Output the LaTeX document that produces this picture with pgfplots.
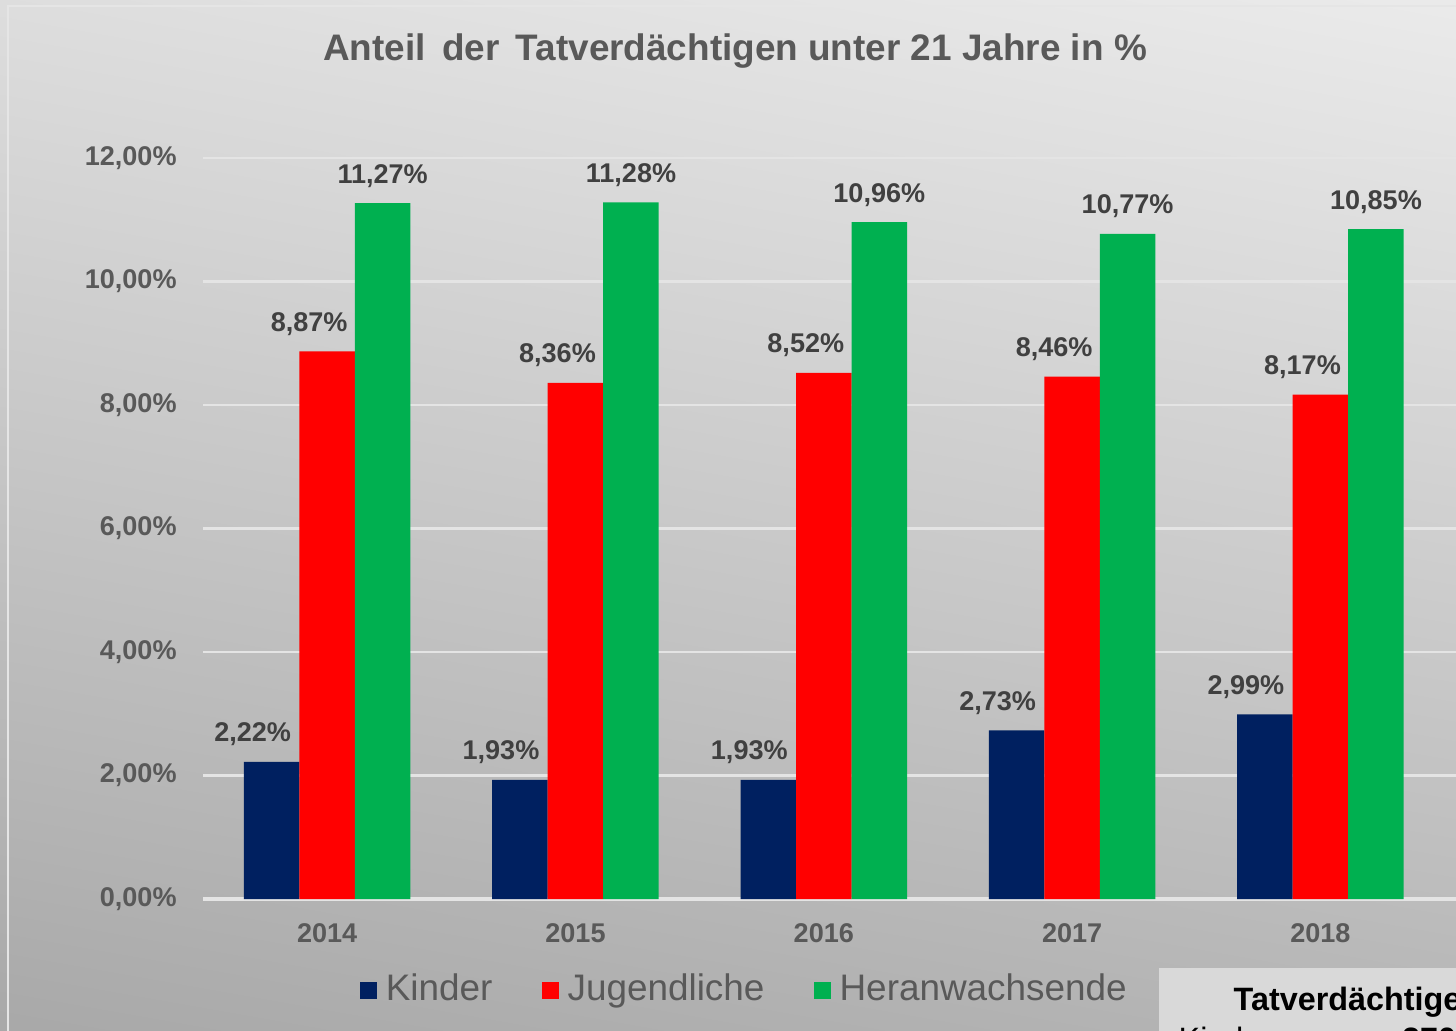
\documentclass[border=0pt]{standalone}
\usepackage{pgfplots}
\pgfplotsset{compat=1.18}
\usepackage{fontspec}
\setmainfont{Liberation Sans}
\definecolor{kinder}{HTML}{002060}
\definecolor{jugend}{HTML}{FF0000}
\definecolor{heran}{HTML}{00B050}
\definecolor{txtgray}{HTML}{595959}
\definecolor{lblgray}{HTML}{404040}
\definecolor{gridc}{HTML}{E4E4E4}
\definecolor{bgtop}{HTML}{EBEBEB}
\definecolor{bgbot}{HTML}{A8A8A8}
\definecolor{boxgray}{HTML}{D9D9D9}
\begin{document}
\begin{tikzpicture}[x=1cm,y=1cm]
\begin{scope}
\clip (0,0) rectangle (14.56,10.30);
\shade[top color=bgtop, bottom color=bgbot, shading angle=-10] (-1,-1) rectangle (15.56,11.30);
\draw[white!80!gray, line width=0.6pt] (0.08,-1) rectangle (15,10.24);
\node[font=\bfseries\fontsize{10.5}{12}\selectfont, text=txtgray] at (7.35,9.79)
  {Anteil\, der\, Tatverdächtigen unter 21 Jahre in \%};
\begin{axis}[
  at={(2.03cm,1.31cm)}, anchor=south west,
  scale only axis,
  width=12.53cm, height=7.41cm,
  xmin=-0.5, xmax=4.546,
  ymin=0, ymax=12,
  ybar=0pt,
  bar width=0.555cm,
  axis x line*=bottom,
  axis y line*=left,
  y axis line style={draw=none},
  x axis line style={gridc, line width=1pt, -},
  ymajorgrids,
  grid style={gridc, line width=0.8pt},
  ytick={0,2,...,12},
  xtick={0,1,2,3,4},
  xticklabels={2014,2015,2016,2017,2018},
  major tick length=0pt,
  /pgf/number format/assume math mode=true,
  yticklabel={\pgfmathprintnumber[fixed,fixed zerofill,precision=2,use comma]{\tick}\%},
  ticklabel style={font=\bfseries\fontsize{7.7}{9}\selectfont, text=txtgray},
  yticklabel style={xshift=-0.14cm},
  xticklabel style={yshift=-0.12cm},
  nodes near coords={\pgfmathprintnumber[fixed,fixed zerofill,precision=2,use comma]{\pgfplotspointmeta}\%},
  every node near coord/.append style={font=\bfseries\fontsize{7.7}{9}\selectfont, text=lblgray, anchor=base, inner sep=0pt, yshift=0.2cm},
  legend columns=3,
  legend style={at={(0.434,-0.123)}, anchor=center, draw=none, fill=none,
    font=\fontsize{10.5}{12}\selectfont, text=txtgray,
    /tikz/every odd column/.append style={column sep=0.02cm},
    /tikz/every even column/.append style={column sep=0.42cm}},
  legend image code/.code={\fill[#1] (0cm,-0.085cm) rectangle (0.17cm,0.085cm);},
]
\addplot[fill=kinder, draw=none, every node near coord/.append style={xshift=-0.19cm}]
  coordinates {(0,2.22) (1,1.93) (2,1.93) (3,2.73) (4,2.99)};
\addplot[fill=jugend, draw=none, every node near coord/.append style={xshift=-0.18cm}]
  coordinates {(0,8.87) (1,8.36) (2,8.52) (3,8.46) (4,8.17)};
\addplot[fill=heran, draw=none]
  coordinates {(0,11.27) (1,11.28) (2,10.96) (3,10.77) (4,10.85)};
\legend{Kinder, Jugendliche, Heranwachsende}
\end{axis}
\fill[boxgray] (11.59,-1) rectangle (16,0.62);
\node[anchor=base west, inner sep=0pt, font=\bfseries\fontsize{9.2}{11}\selectfont] at (12.33,0.20) {Tatverdächtige};
\node[anchor=base west, inner sep=0pt, font=\fontsize{9.2}{11}\selectfont] at (11.78,-0.20) {Kinder\hspace{1.3cm}\textbf{270} (};
\end{scope}
\pgfresetboundingbox
\useasboundingbox (0,0) rectangle (14.56,10.30);
\end{tikzpicture}
\end{document}
